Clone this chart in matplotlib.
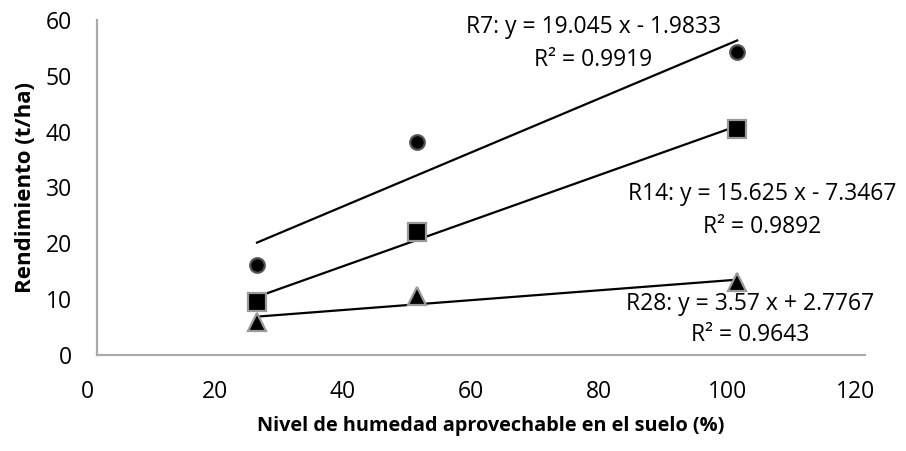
import numpy as np
import matplotlib.pyplot as plt
import matplotlib.transforms as mtransforms

plt.rcParams['font.family'] = ['Open Sans', 'DejaVu Sans']

humedad = [25, 50, 100]
r7 = [16.1, 38.2, 54.3]
r14 = [9.4, 22.1, 40.5]
r28 = [5.9, 10.5, 13.0]

eq_r7 = "R7: y = 19.045 x - 1.9833\nR² = 0.9919"
eq_r14 = "R14: y = 15.625 x - 7.3467\nR² = 0.9892"
eq_r28 = "R28: y = 3.57 x + 2.7767\nR² = 0.9643"

fig = plt.figure(figsize=(9.06, 4.51), dpi=100)
ax = fig.add_axes([0.107, 0.213, 0.848, 0.743])

x = np.array(humedad)
series = [
    (r7, 'o', 10.5, '#555555'),
    (r14, 's', 13.0, '#999999'),
    (r28, '^', 13.5, '#999999'),
]
for vals, mk, ms, ec in series:
    a, b = np.polyfit(x, vals, 1)
    ax.plot(x[[0, -1]], a * x[[0, -1]] + b, color='black', lw=1.6, zorder=2)
    ax.plot(x, vals, linestyle='none', marker=mk, markersize=ms,
            markerfacecolor='black', markeredgecolor=ec, markeredgewidth=1.6,
            zorder=3)

ax.set_xlim(0, 120)
ax.set_ylim(0, 60)
ax.set_xticks(range(0, 121, 20))
ax.set_yticks(range(0, 61, 10))
ax.tick_params(length=0, labelsize=16.5, pad=18, colors='black')
for lab in ax.get_xticklabels():
    lab.set_transform(lab.get_transform() +
                      mtransforms.ScaledTranslation(-0.1, 0, fig.dpi_scale_trans))

for side in ['top', 'right']:
    ax.spines[side].set_visible(False)
for side in ['left', 'bottom']:
    ax.spines[side].set_color('#aaaaaa')
    ax.spines[side].set_linewidth(1.6)

ax.set_xlabel('Nivel de humedad aprovechable en el suelo (%)',
              fontsize=14.3, fontweight='bold', labelpad=9)
ax.xaxis.label.set_x(0.512)
ax.set_ylabel('Rendimiento (t/ha)', fontsize=16, fontweight='bold', labelpad=7)

ax.text(77.5, 55.8, eq_r7, ha='center', va='center', fontsize=16.5, linespacing=1.5)
ax.text(103.9, 25.8, eq_r14, ha='center', va='center', fontsize=16.5, linespacing=1.5)
ax.text(102.0, 6.3, eq_r28, ha='center', va='center', fontsize=16.5, linespacing=1.4)

fig.savefig('out.png', dpi=100)
